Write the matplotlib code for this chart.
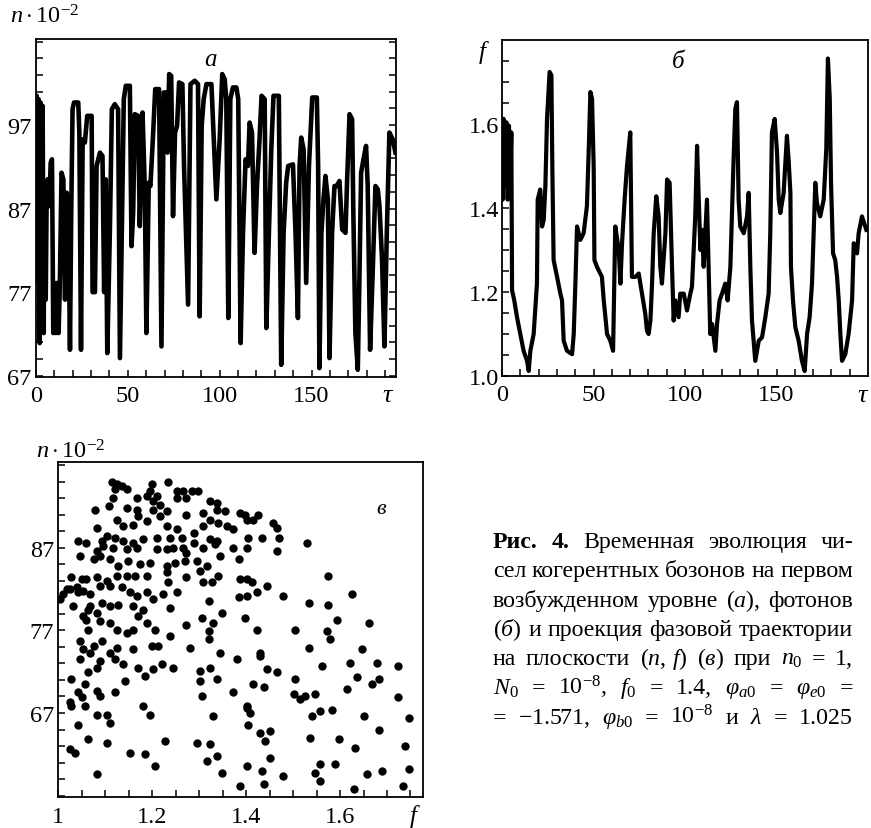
import numpy as np
import matplotlib.pyplot as plt
from matplotlib.ticker import FixedLocator, FixedFormatter

plt.rcParams['font.family'] = 'Liberation Serif'
plt.rcParams['mathtext.fontset'] = 'custom'
plt.rcParams['mathtext.rm'] = 'Liberation Serif'
plt.rcParams['mathtext.it'] = 'Liberation Serif:italic'
plt.rcParams['mathtext.bf'] = 'Liberation Serif:bold'
plt.rcParams['font.size'] = 17

W, H = 871, 829

# --- panel a: n(tau), in units of 1e-2 ---
tau_a = [0.0, 0.4, 0.9, 1.4, 2.0, 2.5, 3.1, 3.6, 4.2, 4.5, 5.3, 5.8, 6.3, 7.2, 8.0, 8.7,
         9.4, 10.0, 10.7, 11.6, 12.3, 13.0, 13.9, 14.9, 15.8, 16.7, 17.6, 18.5, 19.2, 19.9,
         20.7, 23.0, 23.6, 24.5, 25.4, 26.6, 27.9, 30.3, 30.8, 32.1, 33.0, 34.8, 36.2, 37.1,
         38.0, 38.8, 40.2, 41.3, 42.9, 44.7, 45.7, 46.7, 47.8, 48.9, 51.1, 52.0, 52.9, 53.8,
         55.6, 56.5, 58.0, 59.2, 60.1, 61.4, 62.3, 63.8, 64.9, 67.0, 68.3, 69.6, 71.0, 71.6,
         72.5, 73.6, 74.6, 75.7, 76.8, 77.9, 79.7, 80.6, 82.8, 84.1, 86.4, 88.2, 89.1, 90.2,
         91.3, 92.8, 95.5, 97.3, 98.2, 100.0, 101.4, 102.7, 103.6, 104.7, 105.8, 107.2, 109.1,
         110.1, 111.4, 112.7, 114.1, 115.4, 116.3, 117.6, 119.0, 120.3, 121.7, 122.8, 124.5,
         125.4, 126.8, 128.1, 129.3, 132.2, 133.5, 134.8, 136.2, 137.3, 139.9, 141.3, 142.6,
         143.5, 144.4, 145.7, 147.1, 148.6, 150.4, 152.9, 153.6, 154.3, 155.4, 156.5, 157.6,
         158.9, 159.8, 161.2, 162.5, 163.8, 165.2, 166.7, 168.5, 169.4, 170.7, 172.1, 172.8,
         173.9, 175.2, 176.1, 177.0, 178.3, 179.7, 180.6, 181.9, 183.3, 184.8, 186.1, 187.0,
         188.4, 189.7, 191.0, 192.4, 194.2, 195.7]
n_a = [89.7, 100.5, 78.1, 100.1, 70.9, 99.7, 76.1, 99.3, 72.1, 89.7, 76.1, 88.5, 90.5, 87.3, 92.5, 92.9,
       72.1, 78.1, 72.1, 78.1, 72.1, 78.1, 91.3, 90.5, 76.1, 88.9, 87.3, 70.1, 86.9, 98.9,
       99.7, 99.7, 96.1, 70.1, 95.3, 94.9, 98.1, 98.1, 77.0, 77.0, 92.1, 93.7, 93.3, 77.0,
       90.5, 69.7, 84.1, 98.9, 99.5, 98.9, 69.1, 84.1, 100.1, 101.7, 101.7, 82.5, 86.5, 98.3,
       98.1, 84.9, 98.5, 89.7, 72.1, 90.1, 89.7, 96.1, 101.3, 101.3, 70.5, 100.9, 100.9, 93.7,
       103.1, 102.9, 86.1, 96.1, 96.9, 102.1, 101.9, 92.1, 75.5, 101.9, 102.3, 101.9, 74.1, 96.9,
       100.1, 101.9, 101.9, 92.9, 88.1, 95.3, 103.1, 102.5, 100.1, 73.9, 100.1, 101.5, 101.5,
       100.1, 70.9, 84.1, 92.9, 92.1, 97.3, 96.1, 81.7, 89.7, 95.3, 100.5, 100.1,
       72.7, 84.1, 94.1, 100.5, 100.5, 68.3, 84.1, 90.1, 92.1, 92.3, 84.1, 73.9,
       92.1, 95.5, 94.1, 78.1, 92.1, 100.3, 100.3, 92.1, 67.9, 84.1, 88.1, 90.9,
       88.1, 69.1, 84.1, 89.7, 89.7, 90.3, 84.5, 84.1, 90.5, 98.3, 97.7, 86.1,
       72.1, 67.7, 78.9, 91.3, 92.9, 94.5, 89.7, 70.1, 79.3, 89.7, 89.3, 87.3,
       80.9, 70.5, 84.1, 96.1, 95.3, 93.7]

# --- panel b: f(tau) ---
tau_b = [0.0, 0.4, 0.9, 1.6, 2.4, 3.1, 3.8, 4.6, 5.1, 5.5, 6.7, 8.2, 10.0, 11.8, 13.7, 14.6,
         15.5, 17.3, 19.1, 19.5, 20.9, 21.9, 22.8, 23.7, 24.6, 26.0, 27.0, 27.5, 28.2, 30.1,
         31.9, 32.8, 33.7, 35.5, 38.3, 39.2, 40.1, 41.0, 42.8, 44.6, 46.4, 47.4, 48.3, 49.2,
         50.1, 50.5, 51.9, 54.6, 55.6, 57.4, 59.2, 60.7, 61.9, 63.8, 64.7, 65.6, 67.0, 68.3,
         69.2, 70.1, 71.0, 72.9, 74.7, 76.5, 78.3, 79.2, 80.1, 81.1, 82.0, 82.9, 84.3, 85.6,
         86.5, 87.4, 89.3, 90.2, 91.6, 92.9, 93.8, 94.7, 96.5, 97.4, 99.3, 101.1, 102.9, 103.8,
         105.6, 106.6, 107.5, 108.4, 109.3, 110.2, 112.0, 112.9, 113.8, 114.8, 116.6, 117.5,
         118.9, 120.2, 122.0, 123.3, 124.8, 126.6, 127.5, 128.4, 129.3, 130.2, 132.1, 133.9,
         134.8, 135.7, 136.6, 138.4, 140.3, 142.1, 143.9, 145.7, 146.6, 147.5, 149.0, 150.3,
         151.2, 152.1, 153.9, 155.7, 156.6, 157.6, 157.9, 159.0, 160.3, 162.1, 163.9, 165.4,
         166.7, 168.1, 169.4, 170.3, 171.2, 172.1, 173.9, 175.8, 177.2, 178.1, 179.1, 179.8,
         180.9, 182.1, 183.1, 184.0, 184.9, 185.8, 187.6, 189.4, 191.3, 192.2, 194.0, 194.9,
         196.7, 199.1]
f_b = [1.612, 1.420, 1.612, 1.452, 1.604, 1.420, 1.596, 1.484, 1.580, 1.204, 1.180, 1.140, 1.100, 1.060, 1.036, 1.012,
       1.060, 1.100, 1.220, 1.420, 1.444, 1.356, 1.372, 1.452, 1.612, 1.724, 1.716, 1.500, 1.276, 1.236,
       1.196, 1.180, 1.084, 1.060, 1.052, 1.100, 1.220, 1.356, 1.324, 1.340, 1.404, 1.540, 1.676, 1.660,
       1.500, 1.276, 1.260, 1.236, 1.180, 1.100, 1.084, 1.060, 1.356, 1.300, 1.220, 1.316, 1.420, 1.500,
       1.540, 1.580, 1.236, 1.236, 1.244, 1.196, 1.148, 1.108, 1.100, 1.132, 1.220, 1.340, 1.428, 1.380,
       1.260, 1.220, 1.340, 1.468, 1.460, 1.260, 1.132, 1.180, 1.140, 1.196, 1.196, 1.156, 1.196, 1.212,
       1.380, 1.548, 1.420, 1.300, 1.348, 1.260, 1.420, 1.260, 1.100, 1.124, 1.060, 1.124,
       1.180, 1.196, 1.220, 1.180, 1.260, 1.524, 1.636, 1.652, 1.420, 1.356, 1.340, 1.380,
       1.436, 1.260, 1.132, 1.036, 1.084, 1.092, 1.140, 1.196, 1.340, 1.580, 1.612, 1.532,
       1.420, 1.388, 1.436, 1.572, 1.516, 1.436, 1.260, 1.180, 1.116, 1.084, 1.036, 1.012,
       1.100, 1.140, 1.220, 1.340, 1.460, 1.412, 1.380, 1.420, 1.540, 1.756, 1.660, 1.460,
       1.292, 1.276, 1.236, 1.180, 1.100, 1.036, 1.052, 1.100, 1.180, 1.316, 1.292, 1.340,
       1.380, 1.348]

# --- panel c: section points (f, n*1e2) ---
f_c = [1.114, 1.124, 1.135, 1.146, 1.121, 1.199, 1.234, 1.195, 1.252, 1.266, 1.284, 1.298,
       1.117, 1.167, 1.188, 1.210, 1.252, 1.273, 1.323, 1.337, 1.202, 1.217,
       1.078, 1.107, 1.146, 1.167, 1.202, 1.231, 1.273, 1.309, 1.337, 1.355, 1.387, 1.398, 1.426, 1.170, 1.217,
       1.082, 1.124, 1.138, 1.160, 1.188, 1.231, 1.252, 1.288, 1.309, 1.323, 1.341, 1.359, 1.373, 1.401, 1.415, 1.465, 1.458,
       1.043, 1.060, 1.092, 1.103, 1.121, 1.138, 1.160, 1.181, 1.210, 1.238, 1.263, 1.288, 1.323, 1.337, 1.405, 1.433, 1.469, 1.529,
       1.046, 1.082, 1.096, 1.117, 1.146, 1.167, 1.210, 1.231, 1.245, 1.266, 1.309, 1.334, 1.373, 1.401, 1.465, 1.273,
       1.075, 1.089, 1.110, 1.128, 1.149, 1.174, 1.195, 1.231, 1.249, 1.270, 1.295, 1.316, 1.344, 1.384, 1.302,
       1.028, 1.050, 1.082, 1.103, 1.124, 1.146, 1.163, 1.188, 1.231, 1.234, 1.273, 1.309, 1.327, 1.341, 1.387, 1.401, 1.412, 1.444, 1.575,
       1.004, 1.025, 1.039, 1.053, 1.067, 1.089, 1.110, 1.135, 1.153, 1.167, 1.188, 1.202, 1.224, 1.252, 1.320, 1.384, 1.401, 1.423, 1.479, 1.533, 1.575, 1.625,
       1.032, 1.064, 1.082, 1.060, 1.092, 1.110, 1.128, 1.160, 1.170, 1.181, 1.238, 1.305, 1.330, 1.348, 1.398, 1.593, 1.661,
       1.089, 1.110, 1.124, 1.146, 1.160, 1.188, 1.206, 1.238, 1.273, 1.320, 1.423, 1.504, 1.572, 1.579,
       1.053, 1.067, 1.075, 1.092, 1.110, 1.124, 1.160, 1.199, 1.213, 1.281, 1.320, 1.344, 1.430, 1.533, 1.646,
       1.046, 1.064, 1.082, 1.089, 1.121, 1.138, 1.170, 1.202, 1.220, 1.245, 1.302, 1.323, 1.380, 1.430, 1.444, 1.465, 1.561, 1.621, 1.678, 1.724,
       1.028, 1.057, 1.043, 1.082, 1.121, 1.142, 1.185, 1.302, 1.337, 1.415, 1.437, 1.504, 1.614, 1.636, 1.668, 1.682,
       1.025, 1.050, 1.057, 1.089, 1.028, 1.181, 1.305, 1.373, 1.401, 1.501, 1.515, 1.526, 1.547, 1.724,
       1.043, 1.082, 1.103, 1.110, 1.195, 1.330, 1.401, 1.408, 1.405, 1.540, 1.558, 1.582, 1.650, 1.682, 1.746,
       1.064, 1.103, 1.227, 1.295, 1.323, 1.430, 1.440, 1.451, 1.536, 1.597, 1.632, 1.739, 1.025, 1.036,
       1.153, 1.185, 1.206, 1.316, 1.337, 1.401, 1.433, 1.451, 1.558, 1.589, 1.657, 1.689, 1.746, 1.547,
       1.082, 1.348, 1.387, 1.437, 1.479, 1.558, 1.629, 1.735,
       1.011, 1.018, 1.043, 1.060, 1.067, 1.053, 1.064, 1.046]
n_c = [94.9, 94.7, 94.5, 94.1, 94.1, 94.7, 94.9, 93.9, 93.9, 93.9, 93.9, 93.9,
       93.0, 93.0, 93.3, 93.3, 93.0, 93.0, 92.6, 92.4, 92.6, 92.2,
       91.6, 92.0, 91.8, 91.6, 91.6, 91.4, 91.0, 91.2, 91.6, 91.4, 91.2, 91.0, 91.0, 90.8, 90.8,
       89.4, 90.4, 89.6, 89.8, 90.2, 89.6, 89.2, 88.8, 89.6, 90.4, 90.0, 89.6, 89.2, 90.4, 90.4, 89.4, 90.0,
       87.8, 87.6, 87.8, 88.4, 88.2, 87.8, 87.6, 88.0, 88.2, 88.2, 88.2, 87.6, 88.0, 87.8, 88.2, 88.2, 88.2, 87.6,
       86.0, 86.6, 87.2, 87.0, 86.8, 87.0, 86.8, 86.8, 87.0, 87.0, 87.0, 87.4, 87.0, 87.0, 86.6, 86.4,
       85.6, 86.0, 85.6, 84.8, 85.4, 85.0, 85.2, 84.8, 85.2, 85.4, 85.4, 84.8, 86.0, 85.6, 84.2,
       83.4, 83.2, 83.4, 83.0, 83.6, 83.6, 83.6, 83.6, 84.0, 82.8, 83.4, 82.8, 82.8, 83.6, 83.2, 83.2, 82.8, 82.4, 83.6,
       80.8, 82.0, 82.2, 81.8, 81.4, 82.4, 82.4, 82.2, 81.6, 81.2, 81.6, 80.8, 81.4, 81.6, 80.5, 81.0, 81.2, 81.6, 81.2, 80.3, 80.1, 81.4,
       79.9, 79.5, 79.1, 78.3, 80.3, 79.9, 80.1, 79.9, 78.7, 79.5, 79.7, 78.5, 77.9, 79.1, 78.5, 78.3, 77.9,
       78.1, 77.9, 77.1, 76.7, 77.1, 77.9, 77.1, 76.3, 77.7, 76.9, 77.1, 77.1, 76.9, 75.9,
       74.7, 74.3, 75.1, 75.7, 74.3, 74.9, 74.7, 75.1, 75.1, 74.9, 75.9, 74.3, 74.3, 74.9, 74.7,
       73.5, 71.9, 72.5, 73.3, 73.5, 72.9, 72.5, 72.3, 72.9, 72.5, 72.1, 72.5, 73.5, 73.9, 72.3, 71.9, 72.7, 73.1, 73.1, 72.7,
       71.1, 70.5, 69.5, 69.7, 69.5, 70.9, 71.5, 70.9, 71.1, 70.5, 70.1, 71.1, 69.9, 71.3, 70.5, 71.1,
       68.3, 68.9, 67.8, 69.1, 67.8, 67.8, 69.1, 69.5, 67.8, 69.3, 68.7, 69.1, 69.3, 68.9,
       65.6, 66.8, 66.8, 65.8, 66.8, 66.6, 67.6, 67.0, 65.6, 66.6, 67.2, 67.4, 66.6, 65.0, 66.4,
       63.8, 63.4, 63.6, 63.4, 63.2, 64.6, 63.6, 64.8, 64.0, 63.8, 62.8, 63.0, 62.6, 62.2,
       62.2, 62.0, 60.6, 61.2, 61.8, 60.6, 60.0, 61.6, 60.8, 60.8, 59.6, 60.0, 60.2, 59.8,
       59.6, 59.8, 58.2, 58.4, 59.4, 58.8, 57.8, 58.2,
       81.4, 82.0, 81.6, 83.2, 79.9, 78.7, 77.1, 75.7]

caption = [
    ["Рис.", "4.", "Временная", "эволюция", "чи-"],
    ["сел", "когерентных", "бозонов", "на", "первом"],
    ["возбужденном", "уровне", "($а$),", "фотонов"],
    ["($б$)", "и", "проекция", "фазовой", "траектории"],
    ["на", "плоскости", "$(n,\\,f)$", "($в$)", "при", "$n_0$", "=", "1,"],
    ["$N_0$", "=", "$10^{-8}$,", "$f_0$", "=", "1.4,", "$\\varphi_{a0}$", "=", "$\\varphi_{e0}$", "="],
    ["=", "$-1.571$,", "$\\varphi_{b0}$", "=", "$10^{-8}$", "и", "$\\lambda$", "=", "1.025"],
]
bold_words = {"Рис.", "4."}

fig = plt.figure(figsize=(W / 100, H / 100), dpi=100)


def box(l, t, r, b):
    return [l / W, 1 - b / H, (r - l) / W, (b - t) / H]


def px(x, y):
    return x / W, 1 - y / H


def style(ax, right=False):
    for s in ax.spines.values():
        s.set_linewidth(1.3)
    ax.tick_params(which='both', direction='in', length=5, width=1.1,
                   top=False, right=right, labelsize=17.5)
    ax.tick_params(axis='x', pad=6)
    ax.tick_params(axis='y', pad=3)


# a
ax = fig.add_axes(box(36, 40, 396, 377.5))
ax.plot(tau_a, n_a, color='black', lw=3.3)
ax.set_xlim(0, 196)
ax.set_ylim(66.9, 107.3)
ax.xaxis.set_major_locator(FixedLocator([0, 50, 100, 150]))
ax.xaxis.set_minor_locator(FixedLocator(np.arange(0, 196, 10)))
ax.yaxis.set_major_locator(FixedLocator([67, 77, 87, 97]))
ax.yaxis.set_minor_locator(FixedLocator(np.arange(67, 108, 2)))
style(ax, right=True)

# b
ax = fig.add_axes(box(502, 41, 868, 377))
ax.plot(tau_b, f_b, color='black', lw=3.0)
ax.set_xlim(0, 200)
ax.set_ylim(1.0, 1.8)
ax.xaxis.set_major_locator(FixedLocator([0, 50, 100, 150]))
ax.xaxis.set_minor_locator(FixedLocator(np.arange(0, 200, 10)))
ax.yaxis.set_major_locator(FixedLocator([1.0, 1.2, 1.4, 1.6]))
ax.yaxis.set_major_formatter(FixedFormatter(["1.0", "1.2", "1.4", "1.6"]))
ax.yaxis.set_minor_locator(FixedLocator(np.arange(1.0, 1.8, 0.05)))
style(ax)
ax.tick_params(axis='y', pad=2)

# c
ax = fig.add_axes(box(58.3, 462.7, 422.7, 798.3))
ax.scatter(f_c, n_c, s=36, c='black', linewidths=0)
ax.set_xlim(1.0, 1.776)
ax.set_ylim(56.8, 97.4)
ax.xaxis.set_major_locator(FixedLocator([1.0, 1.2, 1.4, 1.6]))
ax.xaxis.set_major_formatter(FixedFormatter(["1", "1.2", "1.4", "1.6"]))
ax.xaxis.set_minor_locator(FixedLocator(np.arange(1.0, 1.77, 0.05)))
ax.yaxis.set_major_locator(FixedLocator([67, 77, 87]))
ax.yaxis.set_minor_locator(FixedLocator(np.arange(57, 98, 2)))
style(ax)

# axis names and panel letters
fig.text(*px(10, 23), r"$n\cdot10^{-2}$", fontsize=17.5, va='baseline')
fig.text(*px(36, 459), r"$n\cdot10^{-2}$", fontsize=17.5, va='baseline')
fig.text(*px(388, 396), r"$\tau$", fontsize=19, ha='center', va='center')
fig.text(*px(863, 396), r"$\tau$", fontsize=19, ha='center', va='center')
fig.text(*px(484, 52), r"$f$", fontsize=18, ha='center', va='center')
fig.text(*px(415, 817), r"$f$", fontsize=18, ha='center', va='center')
fig.text(*px(210, 60), "а", fontsize=18, style='italic', ha='center', va='center')
fig.text(*px(678, 62), "б", fontsize=18, style='italic', ha='center', va='center')
fig.text(*px(381, 509), "в", fontsize=16, style='italic', ha='center', va='center')

# justified caption
renderer = fig.canvas.get_renderer()
x0, x1 = 493, 853
for i, words in enumerate(caption):
    y = 548 + 29.3 * i
    objs = [fig.text(0, 0, w, fontsize=17.2, va='baseline',
                     fontweight='bold' if w in bold_words else 'normal') for w in words]
    widths = [t.get_window_extent(renderer).width for t in objs]
    gap = max((x1 - x0 - sum(widths)) / (len(objs) - 1), 4)
    x = x0
    for t, wd in zip(objs, widths):
        t.set_position(px(x, y))
        x += wd + gap

fig.savefig("out.png", dpi=100)
